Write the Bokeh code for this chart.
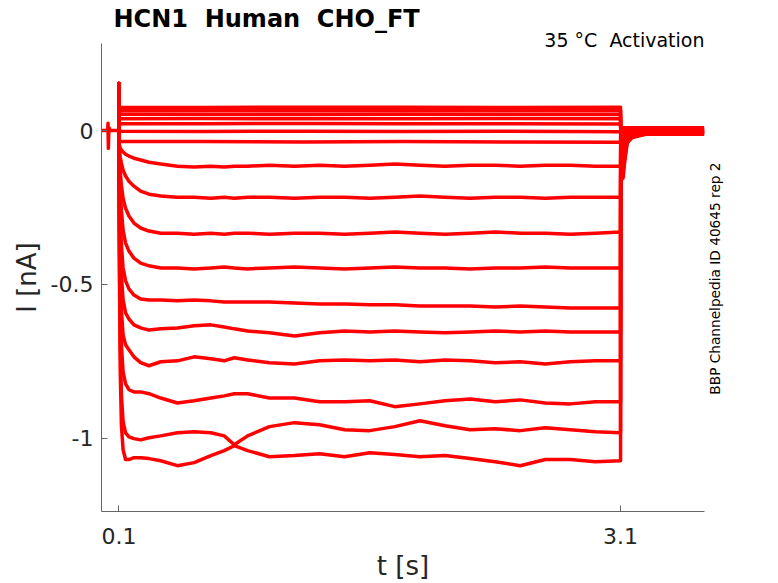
import math
from bokeh.plotting import figure
from bokeh.models import Range1d, FixedTicker, Title, LinearAxis
from bokeh.embed import file_html
from bokeh.resources import INLINE

FONT = "DejaVu Sans"
RED = "#ff0000"

# ---------------- data (time in s, current in nA) ----------------
# holding period before the step (with the small artefact)
t_pre = [-0.004, 0.020, 0.033, 0.035, 0.037, 0.039, 0.042, 0.046, 0.0995]
i_pre = [0.0, 0.0, 0.0, 0.024, -0.058, -0.015, 0.008, 0.0, 0.0]

# capacitive spike at step onset
t_on = [0.0995, 0.100]
i_on = [0.0, 0.153]

# sampling times during the step
t_step = [0.101, 0.103, 0.108, 0.115, 0.125, 0.14, 0.16, 0.19, 0.23, 0.28,
          0.35, 0.45, 0.55, 0.65, 0.73, 0.79, 0.87, 1.0, 1.15, 1.3, 1.45,
          1.6, 1.75, 1.9, 2.05, 2.2, 2.35, 2.5, 2.65, 2.8, 2.95, 3.1]
t_flat = [0.101, 0.6, 1.2, 1.8, 2.4, 3.1]

# traces that stay flat during the step
tr01 = [0.076, 0.075, 0.076, 0.076, 0.075, 0.076]
tr02 = [0.064, 0.065, 0.064, 0.064, 0.065, 0.064]
tr03 = [0.053, 0.053, 0.052, 0.053, 0.053, 0.052]
tr04 = [0.038, 0.039, 0.038, 0.038, 0.039, 0.038]
tr05 = [0.022, 0.022, 0.023, 0.022, 0.022, 0.021]
tr06 = [-0.002, -0.003, -0.002, -0.003, -0.002, -0.004]
tr07 = [-0.036, -0.036, -0.037, -0.036, -0.037, -0.038]

# activating traces
tr08 = [-0.031, -0.048, -0.057, -0.064, -0.070, -0.077, -0.083, -0.090, -0.096, -0.103,
        -0.109, -0.116, -0.119, -0.116, -0.119, -0.116, -0.116, -0.113, -0.116, -0.113,
        -0.116, -0.113, -0.109, -0.113, -0.116, -0.113, -0.113, -0.116, -0.113, -0.113,
        -0.116, -0.116]
tr09 = [-0.048, -0.064, -0.087, -0.106, -0.129, -0.148, -0.165, -0.181, -0.197, -0.207,
        -0.213, -0.217, -0.217, -0.220, -0.217, -0.220, -0.217, -0.217, -0.220, -0.217,
        -0.217, -0.220, -0.217, -0.213, -0.217, -0.220, -0.217, -0.217, -0.220, -0.217,
        -0.217, -0.217]
tr10 = [-0.064, -0.090, -0.135, -0.178, -0.220, -0.253, -0.278, -0.301, -0.317, -0.327,
        -0.334, -0.334, -0.337, -0.334, -0.337, -0.334, -0.334, -0.337, -0.334, -0.334,
        -0.337, -0.334, -0.330, -0.334, -0.337, -0.334, -0.330, -0.334, -0.334, -0.337,
        -0.334, -0.330]
tr11 = [-0.080, -0.122, -0.194, -0.259, -0.324, -0.366, -0.392, -0.415, -0.431, -0.440,
        -0.447, -0.447, -0.450, -0.447, -0.444, -0.447, -0.450, -0.447, -0.444, -0.447,
        -0.450, -0.447, -0.444, -0.447, -0.447, -0.450, -0.447, -0.447, -0.444, -0.447,
        -0.447, -0.447]
tr12 = [-0.096, -0.161, -0.275, -0.372, -0.447, -0.489, -0.515, -0.535, -0.548, -0.551,
        -0.551, -0.554, -0.551, -0.554, -0.558, -0.558, -0.558, -0.558, -0.561, -0.564,
        -0.564, -0.567, -0.567, -0.571, -0.571, -0.571, -0.574, -0.571, -0.574, -0.577,
        -0.577, -0.577]
tr13 = [-0.113, -0.210, -0.356, -0.470, -0.551, -0.593, -0.613, -0.632, -0.642, -0.649,
        -0.645, -0.642, -0.635, -0.632, -0.639, -0.645, -0.652, -0.658, -0.668, -0.658,
        -0.652, -0.655, -0.652, -0.655, -0.658, -0.655, -0.652, -0.655, -0.652, -0.655,
        -0.655, -0.655]
tr14 = [-0.129, -0.259, -0.437, -0.584, -0.665, -0.697, -0.713, -0.736, -0.755, -0.765,
        -0.752, -0.749, -0.736, -0.742, -0.749, -0.739, -0.746, -0.755, -0.759, -0.749,
        -0.746, -0.749, -0.746, -0.752, -0.746, -0.749, -0.755, -0.752, -0.759, -0.752,
        -0.749, -0.749]
tr15 = [-0.145, -0.324, -0.551, -0.697, -0.785, -0.824, -0.843, -0.850, -0.850, -0.856,
        -0.870, -0.886, -0.879, -0.870, -0.863, -0.856, -0.856, -0.870, -0.870, -0.882,
        -0.882, -0.879, -0.898, -0.889, -0.879, -0.873, -0.882, -0.876, -0.886, -0.889,
        -0.882, -0.882]
tr16 = [-0.161, -0.388, -0.681, -0.860, -0.947, -0.983, -0.996, -1.002, -1.006, -0.999,
        -0.993, -0.983, -0.980, -0.983, -0.993, -1.022, -0.993, -0.963, -0.950, -0.957,
        -0.973, -0.976, -0.963, -0.944, -0.960, -0.973, -0.970, -0.976, -0.967, -0.973,
        -0.980, -0.983]
tr17 = [-0.178, -0.453, -0.778, -0.957, -1.038, -1.070, -1.070, -1.064, -1.064, -1.067,
        -1.074, -1.090, -1.080, -1.057, -1.041, -1.025, -1.041, -1.061, -1.057, -1.051,
        -1.061, -1.048, -1.054, -1.061, -1.057, -1.067, -1.077, -1.090, -1.070, -1.070,
        -1.077, -1.074]

# tails after the step
t_tail = [3.101, 3.115, 3.125, 3.14, 3.17, 3.25, 3.4, 3.6]
t_tail_flat = [3.101, 3.6]
tail01 = [0.010, 0.009]
tail02 = [0.008, 0.007]
tail03 = [0.006, 0.005]
tail04 = [0.004, 0.004]
tail05 = [0.002, 0.002]
tail06 = [0.000, 0.000]
tail07 = [-0.002, -0.002]
tail08 = [-0.015, -0.014, -0.010, -0.005, -0.004, -0.003, -0.003, -0.003]
tail09 = [-0.030, -0.028, -0.019, -0.009, -0.007, -0.004, -0.004, -0.004]
tail10 = [-0.045, -0.042, -0.028, -0.012, -0.009, -0.005, -0.005, -0.005]
tail11 = [-0.060, -0.056, -0.036, -0.016, -0.011, -0.006, -0.006, -0.006]
tail12 = [-0.080, -0.075, -0.048, -0.020, -0.013, -0.007, -0.007, -0.007]
tail13 = [-0.095, -0.090, -0.058, -0.024, -0.015, -0.008, -0.008, -0.008]
tail14 = [-0.110, -0.105, -0.068, -0.028, -0.017, -0.009, -0.009, -0.009]
tail15 = [-0.130, -0.125, -0.080, -0.032, -0.019, -0.010, -0.010, -0.010]
tail16 = [-0.145, -0.140, -0.090, -0.036, -0.021, -0.011, -0.011, -0.011]
tail17 = [-0.160, -0.155, -0.100, -0.040, -0.023, -0.012, -0.012, -0.012]

x_ticks = [0.1, 3.1]
x_tick_labels = ["0.1", "3.1"]
y_ticks = [-1, -0.5, 0]
y_tick_labels = ["-1", "-0.5", "0"]

NB = "\u00a0"
title_text = "HCN1 " + NB + "Human " + NB + "CHO_FT"
cond_text = "35 °C " + NB + "Activation"
side_text = "BBP Channelpedia ID 40645 rep 2"
side_pos = -0.859
x_label = "t [s]"
y_label = "I [nA]"

# ---------------- figure ----------------
p = figure(width=778, height=583, title=None,
           x_range=Range1d(-0.004, 3.602), y_range=Range1d(-1.239, 0.283),
           output_backend="svg", toolbar_location=None,
           min_border_left=101, min_border_right=74,
           min_border_top=43, min_border_bottom=71)
p.outline_line_color = None
p.grid.visible = False
p.background_fill_color = "white"
p.border_fill_color = "white"

AX = "#666666"
TXT = "#262626"
for ax in (p.xaxis[0], p.yaxis[0]):
    ax.axis_line_color = AX
    ax.axis_line_width = 1
    ax.major_tick_line_color = AX
    ax.major_tick_in = 6
    ax.major_tick_out = 0
    ax.minor_tick_line_color = None
    ax.major_label_text_font = FONT
    ax.major_label_text_font_size = "22px"
    ax.major_label_text_color = TXT
    ax.axis_label_text_font = FONT
    ax.axis_label_text_font_style = "normal"
    ax.axis_label_text_color = TXT
    ax.axis_label_text_font_size = "26px"

p.xaxis.ticker = FixedTicker(ticks=x_ticks)
p.xaxis.major_label_overrides = dict(zip(x_ticks, x_tick_labels))
p.xaxis.major_label_standoff = 16
p.xaxis.axis_label = x_label
p.xaxis.axis_label_standoff = 4
p.yaxis.ticker = FixedTicker(ticks=y_ticks)
p.yaxis.major_label_overrides = dict(zip(y_ticks, y_tick_labels))
p.yaxis.major_label_standoff = 8
p.yaxis.axis_label = y_label
p.yaxis.axis_label_standoff = 6

# vertical source note on the right side
side_axis = LinearAxis(ticker=FixedTicker(ticks=[side_pos]),
                       major_label_overrides={side_pos: side_text},
                       axis_line_color=None, major_tick_line_color=None,
                       minor_tick_line_color=None,
                       major_tick_in=0, major_tick_out=0,
                       major_label_orientation=math.pi / 2,
                       major_label_standoff=11,
                       major_label_text_font=FONT,
                       major_label_text_font_size="13.7px",
                       major_label_text_color="black")
p.add_layout(side_axis, "right")

# titles (first added sits closest to the frame)
p.add_layout(Title(text=cond_text, align="right", offset=0, standoff=-14,
                   text_font=FONT, text_font_size="19px",
                   text_font_style="normal", text_color="black"), "above")
p.add_layout(Title(text=title_text, align="left", offset=12, standoff=2,
                   text_font=FONT, text_font_size="24px",
                   text_font_style="bold", text_color="black"), "above")

# ---------------- traces ----------------
LW = 3.5
p.line(t_pre, i_pre, line_color=RED, line_width=LW, line_join="round")

flat = [(tr01, tail01), (tr02, tail02), (tr03, tail03), (tr04, tail04),
        (tr05, tail05), (tr06, tail06), (tr07, tail07)]
for vals, tail in flat:
    p.line(t_on + t_flat + t_tail_flat, i_on + vals + tail,
           line_color=RED, line_width=LW, line_join="round")

act = [(tr08, tail08), (tr09, tail09), (tr10, tail10), (tr11, tail11),
       (tr12, tail12), (tr13, tail13), (tr14, tail14), (tr15, tail15),
       (tr16, tail16), (tr17, tail17)]
for vals, tail in act:
    p.line(t_on + t_step + t_tail, i_on + vals + tail,
           line_color=RED, line_width=LW, line_join="round")

open("out.html", "w").write(file_html(p, INLINE))
